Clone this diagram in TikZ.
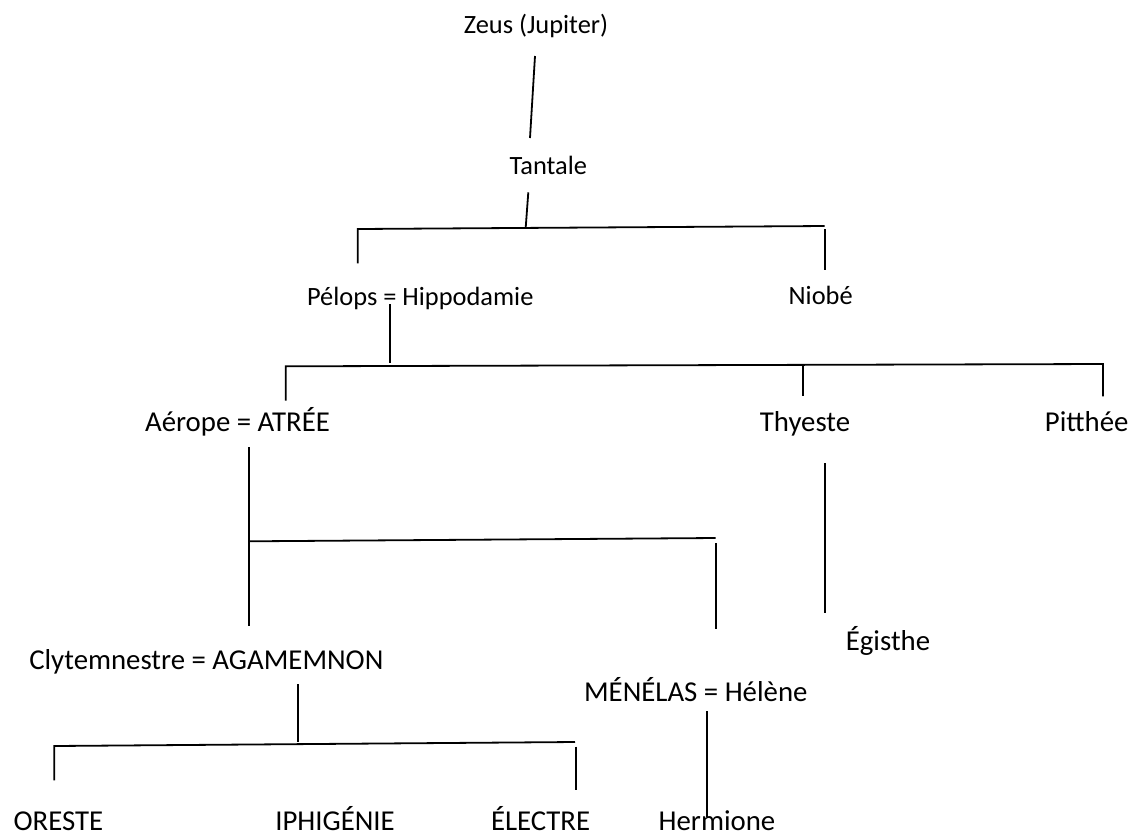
\documentclass[tikz,border=0pt]{standalone}
\usepackage{fontspec}
\setmainfont{Carlito}
\usepackage{tikz}
\tikzset{
  ancestor/.style={inner sep=0pt, anchor=base, font=\fontsize{11}{13}\selectfont},
  descendant/.style={inner sep=0pt, anchor=base, font=\fontsize{12}{14}\selectfont},
  kinline/.style={draw=black, line width=0.75pt},
}
\begin{document}
\begin{tikzpicture}[x=0.41667pt, y=-0.41667pt]
  \useasboundingbox (0,0) rectangle (1139,834);

  % Ancestors (upper generations)
  \node[ancestor] (zeus) at (536,33.3) {Zeus (Jupiter)};
  \node[ancestor] (tantale) at (548.3,174) {Tantale};
  \node[ancestor] (pelops) at (420.3,305.5) {Pélops = Hippodamie};
  \node[ancestor] (niobe) at (820.7,304.7) {Niobé};

  % Children of Pelops
  \node[descendant] (atree) at (237.5,431.3) {Aérope = ATRÉE};
  \node[descendant] (thyeste) at (805,431.3) {Thyeste};
  \node[descendant] (pitthee) at (1086.7,431.3) {Pitthée};
  \node[descendant] (egisthe) at (888,650.3) {Égisthe};

  % Atrides and their children
  \node[descendant] (agamemnon) at (206.3,669.3) {Clytemnestre = AGAMEMNON};
  \node[descendant] (menelas) at (695.8,701) {MÉNÉLAS = Hélène};
  \node[descendant] (oreste) at (58.4,830) {ORESTE};
  \node[descendant] (iphigenie) at (335,830) {IPHIGÉNIE};
  \node[descendant] (electre) at (540.6,830) {ÉLECTRE};
  \node[descendant] (hermione) at (717,830) {Hermione};

  % Line ends
  \coordinate (zeusdown) at (535,56);
  \coordinate (tantaleup) at (530,138);
  \coordinate (tantaledown) at (528.3,192.3);
  \coordinate (tantalebar) at (525.7,227.7);
  \coordinate (pelopsup) at (357.7,263.3);
  \coordinate (barAleft) at (357.7,229);
  \coordinate (barAright) at (824.7,226);
  \coordinate (niobetop) at (824.7,229);
  \coordinate (niobeup) at (824.7,270);
  \coordinate (pelopsdown) at (390,304);
  \coordinate (pelopsbar) at (390,363);
  \coordinate (atreeup) at (285.7,400.7);
  \coordinate (barBleft) at (285.7,366.3);
  \coordinate (barBright) at (1103,364);
  \coordinate (pittheeup) at (1103,396.3);
  \coordinate (thyestetop) at (803.3,364.5);
  \coordinate (thyesteup) at (803.3,396.3);
  \coordinate (atreedown) at (249.3,447.3);
  \coordinate (agamemnonup) at (249.3,626);
  \coordinate (barCleft) at (249.3,541.3);
  \coordinate (barCright) at (715.7,538);
  \coordinate (menelastop) at (715.7,543);
  \coordinate (menelasup) at (715.7,628.7);
  \coordinate (thyestedown) at (824.7,463);
  \coordinate (egistheup) at (824.7,612.7);
  \coordinate (agamemnondown) at (297.7,684.3);
  \coordinate (agamemnonbar) at (297.7,742);
  \coordinate (oresteup) at (54.3,780.3);
  \coordinate (barDleft) at (54.3,746);
  \coordinate (barDright) at (575,742);
  \coordinate (electretop) at (575.7,746.7);
  \coordinate (electreup) at (575.7,790.3);
  \coordinate (menelasdown) at (706.7,711);
  \coordinate (hermioneup) at (706.7,817);

  % Zeus, Tantale
  \draw[kinline] (zeusdown) -- (tantaleup);
  \draw[kinline] (tantaledown) -- (tantalebar);
  \draw[kinline] (pelopsup) -- (barAleft) -- (barAright);
  \draw[kinline] (niobetop) -- (niobeup);

  % Pelops
  \draw[kinline] (pelopsdown) -- (pelopsbar);
  \draw[kinline] (atreeup) -- (barBleft) -- (barBright) -- (pittheeup);
  \draw[kinline] (thyestetop) -- (thyesteup);

  % Atree, Thyeste
  \draw[kinline] (atreedown) -- (agamemnonup);
  \draw[kinline] (barCleft) -- (barCright);
  \draw[kinline] (menelastop) -- (menelasup);
  \draw[kinline] (thyestedown) -- (egistheup);

  % Agamemnon, Menelas
  \draw[kinline] (agamemnondown) -- (agamemnonbar);
  \draw[kinline] (oresteup) -- (barDleft) -- (barDright);
  \draw[kinline] (electretop) -- (electreup);
  \draw[kinline] (menelasdown) -- (hermioneup);

\end{tikzpicture}
\end{document}
